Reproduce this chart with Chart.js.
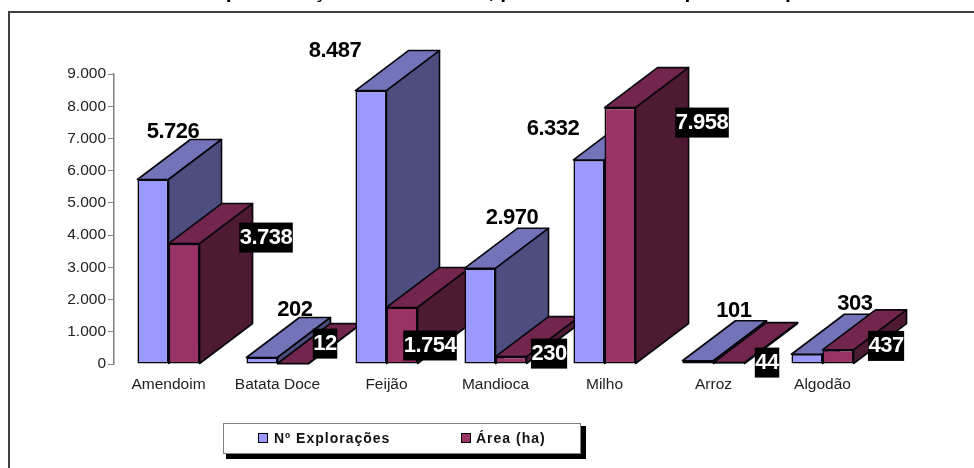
<!DOCTYPE html>
<html lang="pt">
<head>
<meta charset="utf-8">
<title>Explorações e área por cultura</title>
<script src="https://cdn.jsdelivr.net/npm/chart.js@4/dist/chart.umd.min.js"></script>
<style>
  html,body{margin:0;padding:0;background:#fff;overflow:hidden}
  #wrap{position:relative;width:974px;height:468px;overflow:hidden;font-family:"Liberation Sans",Arial,sans-serif}
  #wrap canvas{position:absolute;left:0;top:0}
  .frame{position:absolute;left:8px;top:11px;right:0;bottom:0;border-left:2px solid #404040;border-top:2px solid #404040}
  .title{position:absolute;left:199px;top:-22px;font-size:21px;line-height:26px;font-weight:bold;color:#000;white-space:nowrap}
  .legend{position:absolute;left:223px;top:423px;width:356px;height:29px;background:#fff;border:1px solid #808080;box-shadow:4px 4px 0 1px #000}
  .legend span{position:absolute;top:5px;font-size:14px;line-height:18px;font-weight:bold;letter-spacing:1px;color:#111;white-space:nowrap}
  .legend i{position:absolute;top:9px;width:8px;height:8px;border:1px solid #000}
</style>
</head>
<body>
<div id="wrap">
  <div class="frame"></div>
  <canvas id="chartCulturas" width="974" height="468"></canvas>
  <div class="title">Representação das colheitas, por área semeada por ano e por distrito</div>
  <div class="legend" id="legend"></div>
</div>
<script>
const categories = ['Amendoim','Batata Doce','Feijão','Mandioca','Milho','Arroz','Algodão'];
const exploracoes = [5726,202,8487,2970,6332,101,303];
const areaHa = [3738,12,1754,230,7958,44,437];
const yTicks = [0,1000,2000,3000,4000,5000,6000,7000,8000,9000];

// face colours per series: front, top, side
const blueFaces = ['#9999FF','#7373B9','#4D4D7F'];
const wineFaces = ['#993366','#73264D','#4D1A33'];

// hand-placed value labels, offset from the top centre of each bar
const blueNudge = [[20,-48],[33,-48],[-36,-40],[32,-50],[-36,-31],[36,-50],[48,-50]];
const wineNudge = [[82,-6],[32,-20],[28,38],[38,-3],[82,15],[38,0],[48,-4]];

const DEPTH_X = 53, DEPTH_Y = -40;
const EDGE = '#06060c', EDGE_W = 1.6;

const fmt = v => String(v).replace(/\B(?=(\d{3})+$)/g,'.');

function poly(ctx, pts, fill) {
  ctx.beginPath();
  pts.forEach((p,i)=> i ? ctx.lineTo(p[0],p[1]) : ctx.moveTo(p[0],p[1]));
  ctx.closePath();
  ctx.fillStyle = fill;
  ctx.fill();
  ctx.lineWidth = EDGE_W;
  ctx.strokeStyle = EDGE;
  ctx.lineJoin = 'round';
  ctx.stroke();
}

// extruded bars, painted category by category so nearer blocks cover the ones behind
const bars3d = {
  id:'bars3d',
  beforeDatasetsDraw(chart) {
    const ctx = chart.ctx;
    const sets = [blueFaces, wineFaces];
    categories.forEach((_,i)=>{
      sets.forEach((faces,d)=>{
        const el = chart.getDatasetMeta(d).data[i];
        const l = el.x - el.width/2, r = el.x + el.width/2, t = el.y, b = el.base;
        ctx.save();
        poly(ctx,[[l,t],[r,t],[r+DEPTH_X,t+DEPTH_Y],[l+DEPTH_X,t+DEPTH_Y]],faces[1]);
        poly(ctx,[[r,t],[r,b],[r+DEPTH_X,b+DEPTH_Y],[r+DEPTH_X,t+DEPTH_Y]],faces[2]);
        ctx.restore();
        el.draw(ctx);
      });
    });
    ctx.save();
    ctx.font = 'bold 22px "Liberation Sans", Arial, sans-serif';
    ctx.letterSpacing = '-0.5px';
    ctx.textAlign = 'center';
    ctx.textBaseline = 'middle';
    categories.forEach((_,i)=>{
      const a = chart.getDatasetMeta(0).data[i];
      ctx.fillStyle = '#000';
      ctx.fillText(fmt(exploracoes[i]), a.x+blueNudge[i][0], a.y+blueNudge[i][1]);
    });
    categories.forEach((_,i)=>{
      const e = chart.getDatasetMeta(1).data[i];
      const txt = fmt(areaHa[i]);
      const cx = e.x+wineNudge[i][0], cy = e.y+wineNudge[i][1];
      const w = ctx.measureText(txt).width + 1;
      ctx.fillStyle = '#000';
      ctx.fillRect(cx-w/2, cy-15, w, 30);
      ctx.fillStyle = '#fff';
      ctx.fillText(txt, cx, cy);
    });
    ctx.restore();
    return false;
  }
};

new Chart(document.getElementById('chartCulturas'),{
  type:'bar',
  data:{
    labels:categories,
    datasets:[
      {label:'Nº Explorações',data:exploracoes,backgroundColor:blueFaces[0],borderColor:EDGE,borderWidth:EDGE_W,borderSkipped:false},
      {label:'Área (ha)',data:areaHa,backgroundColor:wineFaces[0],borderColor:EDGE,borderWidth:EDGE_W,borderSkipped:false}
    ]
  },
  options:{
    responsive:false,
    animation:false,
    events:[],
    layout:{padding:{left:60,top:74,right:97,bottom:64}},
    categoryPercentage:.57,
    barPercentage:1,
    plugins:{legend:{display:false},tooltip:{enabled:false},title:{display:false}},
    scales:{
      x:{
        grid:{display:false},
        border:{display:false},
        afterFit:s=>{s.height=40;},
        ticks:{maxRotation:0,minRotation:0,autoSkip:false,padding:3,color:'#222',font:{family:'"Liberation Sans", Arial, sans-serif',size:15.5}}
      },
      y:{
        min:0,max:9000,
        afterFit:s=>{s.width=54;},
        afterBuildTicks:s=>{s.ticks=yTicks.map(v=>({value:v}));},
        grid:{drawOnChartArea:false,drawTicks:true,tickLength:6,color:'#808080'},
        border:{color:'#808080',width:1.5},
        ticks:{padding:2,color:'#222',font:{family:'"Liberation Sans", Arial, sans-serif',size:15.5},callback:v=>fmt(v)}
      }
    }
  },
  plugins:[bars3d]
});

// legend box below the plot
const legendItems = [
  {text:'Nº Explorações',color:blueFaces[0],mark:34,label:50},
  {text:'Área (ha)',color:wineFaces[0],mark:237,label:252}
];
document.getElementById('legend').innerHTML = legendItems.map(it=>
  `<i style="left:${it.mark}px;background:${it.color}"></i><span style="left:${it.label}px">${it.text}</span>`).join('');
</script>
</body>
</html>
